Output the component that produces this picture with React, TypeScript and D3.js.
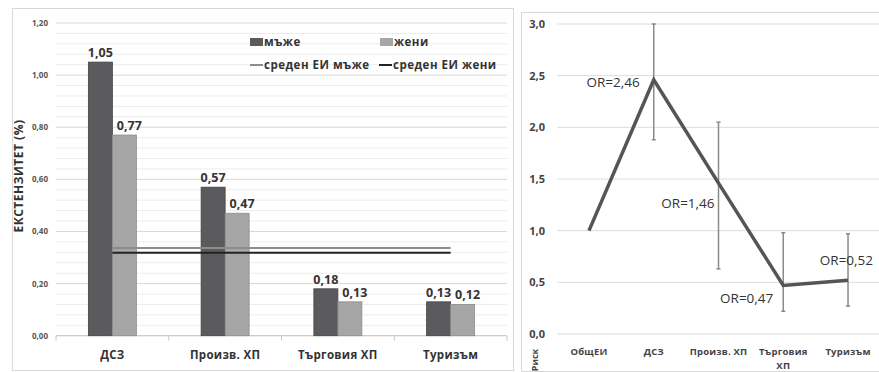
import React from "react";
import * as d3 from "d3";

const categoriesL = ["ДСЗ", "Произв. ХП", "Търговия ХП", "Туризъм"];
const menValues = [1.05, 0.57, 0.18, 0.13];
const womenValues = [0.77, 0.47, 0.13, 0.12];
const avgMen = 0.337;
const avgWomen = 0.318;
const yTicksL = [0, 0.2, 0.4, 0.6, 0.8, 1.0, 1.2];

const categoriesR = ["ОбщЕИ", "ДСЗ", "Произв. ХП", "Търговия ХП", "Туризъм"];
const riskValues = [1.0, 2.46, 1.46, 0.47, 0.52];
const ciLow = [null, 1.88, 0.63, 0.22, 0.27];
const ciHigh = [null, 3.0, 2.05, 0.98, 0.97];
const orLabels = ["", "OR=2,46", "OR=1,46", "OR=0,47", "OR=0,52"];
const yTicksR = [0, 0.5, 1.0, 1.5, 2.0, 2.5, 3.0];

const FONT = "'Open Sans', 'DejaVu Sans', sans-serif";
const fmt2 = (v: number) => v.toFixed(2).replace(".", ",");
const fmt1 = (v: number) => v.toFixed(1).replace(".", ",");

export default function App() {
  // left chart
  const yL = d3.scaleLinear().domain([0, 1.2]).range([335.7, 23]);
  const xL = d3.scaleBand<string>().domain(categoriesL).range([56, 507]);
  const barW = 24;
  const cL = (c: string) => (xL(c) as number) + xL.bandwidth() / 2;
  const minorL = d3.range(0, 1.2001, 0.04);

  // right chart
  const yR = d3.scaleLinear().domain([0, 3]).range([334, 24]);
  const xR = d3.scaleBand<string>().domain(categoriesR).range([556.6, 880.4]);
  const cR = (c: string) => (xR(c) as number) + xR.bandwidth() / 2;
  const line = d3
    .line<number>()
    .x((_, i) => cR(categoriesR[i]))
    .y((d) => yR(d));
  // label placement relative to the point: [dx, dy, anchor]
  const orPlace: [number, number, string][] = [
    [0, 0, "end"],
    [-14, 7, "end"],
    [-4, 25, "end"],
    [-10, 18, "end"],
    [25, -15, "end"],
  ];

  const legendText = { fontSize: 11.5, fontWeight: 700, fill: "#333", letterSpacing: 0.5 };

  return (
    <div style={{ position: "absolute", left: 0, top: 0 }}>
      <svg width={879} height={372} style={{ display: "block", background: "#fff" }} fontFamily={FONT}>
        {/* LEFT PANEL */}
        <rect x={12.5} y={8.5} width={501} height={362} fill="#fff" stroke="#d9d9d9" />
        {minorL.map((v, i) => (
          <line key={"mg" + i} x1={56} x2={507} y1={yL(v)} y2={yL(v)}
            stroke={i % 5 === 0 ? "#d9d9d9" : "#ececec"} strokeWidth={1} />
        ))}
        {yTicksL.map((v) => (
          <text key={"yl" + v} x={48} y={yL(v) + 3} textAnchor="end" fontSize={8} fontWeight={700} fill="#555">
            {fmt2(v)}
          </text>
        ))}
        <line x1={56} x2={507} y1={yL(0)} y2={yL(0)} stroke="#c8c8c8" />
        {d3.range(categoriesL.length + 1).map((i) => {
          const x = 56 + i * xL.bandwidth();
          return <line key={"tk" + i} x1={x} x2={x} y1={yL(0)} y2={yL(0) + 5} stroke="#c8c8c8" />;
        })}
        {categoriesL.map((c, i) => (
          <g key={"bar" + c}>
            <rect x={cL(c) - barW} y={yL(menValues[i])} width={barW} height={yL(0) - yL(menValues[i])}
              fill="#5b5b5d" stroke="#444" strokeWidth={0.8} />
            <rect x={cL(c)} y={yL(womenValues[i])} width={barW} height={yL(0) - yL(womenValues[i])}
              fill="#a6a6a6" stroke="#8c8c8c" strokeWidth={0.8} />
            <text x={cL(c) - barW / 2} y={yL(menValues[i]) - 5} textAnchor="middle" fontSize={12.5} fontWeight={700} fill="#333">
              {fmt2(menValues[i])}
            </text>
            <text x={cL(c) + barW / 2 + 5} y={yL(womenValues[i]) - 5} textAnchor="middle" fontSize={12.5} fontWeight={700} fill="#333">
              {fmt2(womenValues[i])}
            </text>
            <text x={cL(c)} y={359} textAnchor="middle" fontSize={11.5} fontWeight={700} fill="#333" letterSpacing={0.3}>
              {c}
            </text>
          </g>
        ))}
        <line x1={cL(categoriesL[0])} x2={cL(categoriesL[3])} y1={yL(avgMen)} y2={yL(avgMen)} stroke="#8c8c8c" strokeWidth={2} />
        <line x1={cL(categoriesL[0])} x2={cL(categoriesL[3])} y1={yL(avgWomen)} y2={yL(avgWomen)} stroke="#222" strokeWidth={2} />
        {/* legend */}
        <rect x={250} y={38} width={13} height={8} fill="#5b5b5d" />
        <text x={264} y={46} {...legendText}>мъже</text>
        <rect x={380} y={38} width={13} height={8} fill="#a6a6a6" />
        <text x={394} y={46} {...legendText}>жени</text>
        <line x1={250} x2={263} y1={65} y2={65} stroke="#8c8c8c" strokeWidth={2} />
        <text x={264} y={69} {...legendText}>среден ЕИ мъже</text>
        <line x1={379} x2={392} y1={65} y2={65} stroke="#222" strokeWidth={2} />
        <text x={393} y={69} {...legendText}>среден ЕИ жени</text>
        <text transform="translate(23,176) rotate(-90)" textAnchor="middle" fontSize={12} fontWeight={700} fill="#333" letterSpacing={0.5}>
          ЕКСТЕНЗИТЕТ (%)
        </text>

        {/* RIGHT PANEL */}
        <rect x={521.5} y={12.5} width={370} height={359} fill="#fff" stroke="#d9d9d9" />
        {yTicksR.map((v) => (
          <g key={"yr" + v}>
            <line x1={557} x2={879} y1={yR(v)} y2={yR(v)} stroke="#dcdcdc" strokeWidth={v === 0 ? 1.2 : 1} />
            <text x={545} y={yR(v) + 4} textAnchor="end" fontSize={11} fontWeight={700} fill="#444">
              {fmt1(v)}
            </text>
          </g>
        ))}
        {categoriesR.map((c, i) =>
          ciLow[i] == null ? null : (
            <g key={"eb" + c} stroke="#8a8a8a" strokeWidth={1.5}>
              <line x1={cR(c)} x2={cR(c)} y1={yR(ciLow[i] as number)} y2={yR(ciHigh[i] as number)} />
              <line x1={cR(c) - 2} x2={cR(c) + 2} y1={yR(ciLow[i] as number)} y2={yR(ciLow[i] as number)} />
              <line x1={cR(c) - 2} x2={cR(c) + 2} y1={yR(ciHigh[i] as number)} y2={yR(ciHigh[i] as number)} />
            </g>
          )
        )}
        <path d={line(riskValues) as string} fill="none" stroke="#555" strokeWidth={3.5} strokeLinejoin="miter" />
        {categoriesR.map((c, i) =>
          orLabels[i] ? (
            <text key={"or" + c} x={cR(c) + orPlace[i][0]} y={yR(riskValues[i]) + orPlace[i][1]}
              textAnchor={orPlace[i][2]} fontSize={13.5} fill="#333">
              {orLabels[i]}
            </text>
          ) : null
        )}
        {categoriesR.map((c) => {
          const parts = c === "Търговия ХП" ? ["Търговия", "ХП"] : [c];
          return (
            <text key={"xr" + c} x={cR(c)} y={355} textAnchor="middle" fontSize={9.5} fontWeight={700} fill="#444" letterSpacing={0.2}>
              {parts.map((p, j) => (
                <tspan key={j} x={cR(c)} dy={j === 0 ? 0 : 14}>{p}</tspan>
              ))}
            </text>
          );
        })}
        <text transform="translate(538,360) rotate(-90)" textAnchor="middle" fontSize={9} fontWeight={700} fill="#444">
          Риск
        </text>
      </svg>
    </div>
  );
}
